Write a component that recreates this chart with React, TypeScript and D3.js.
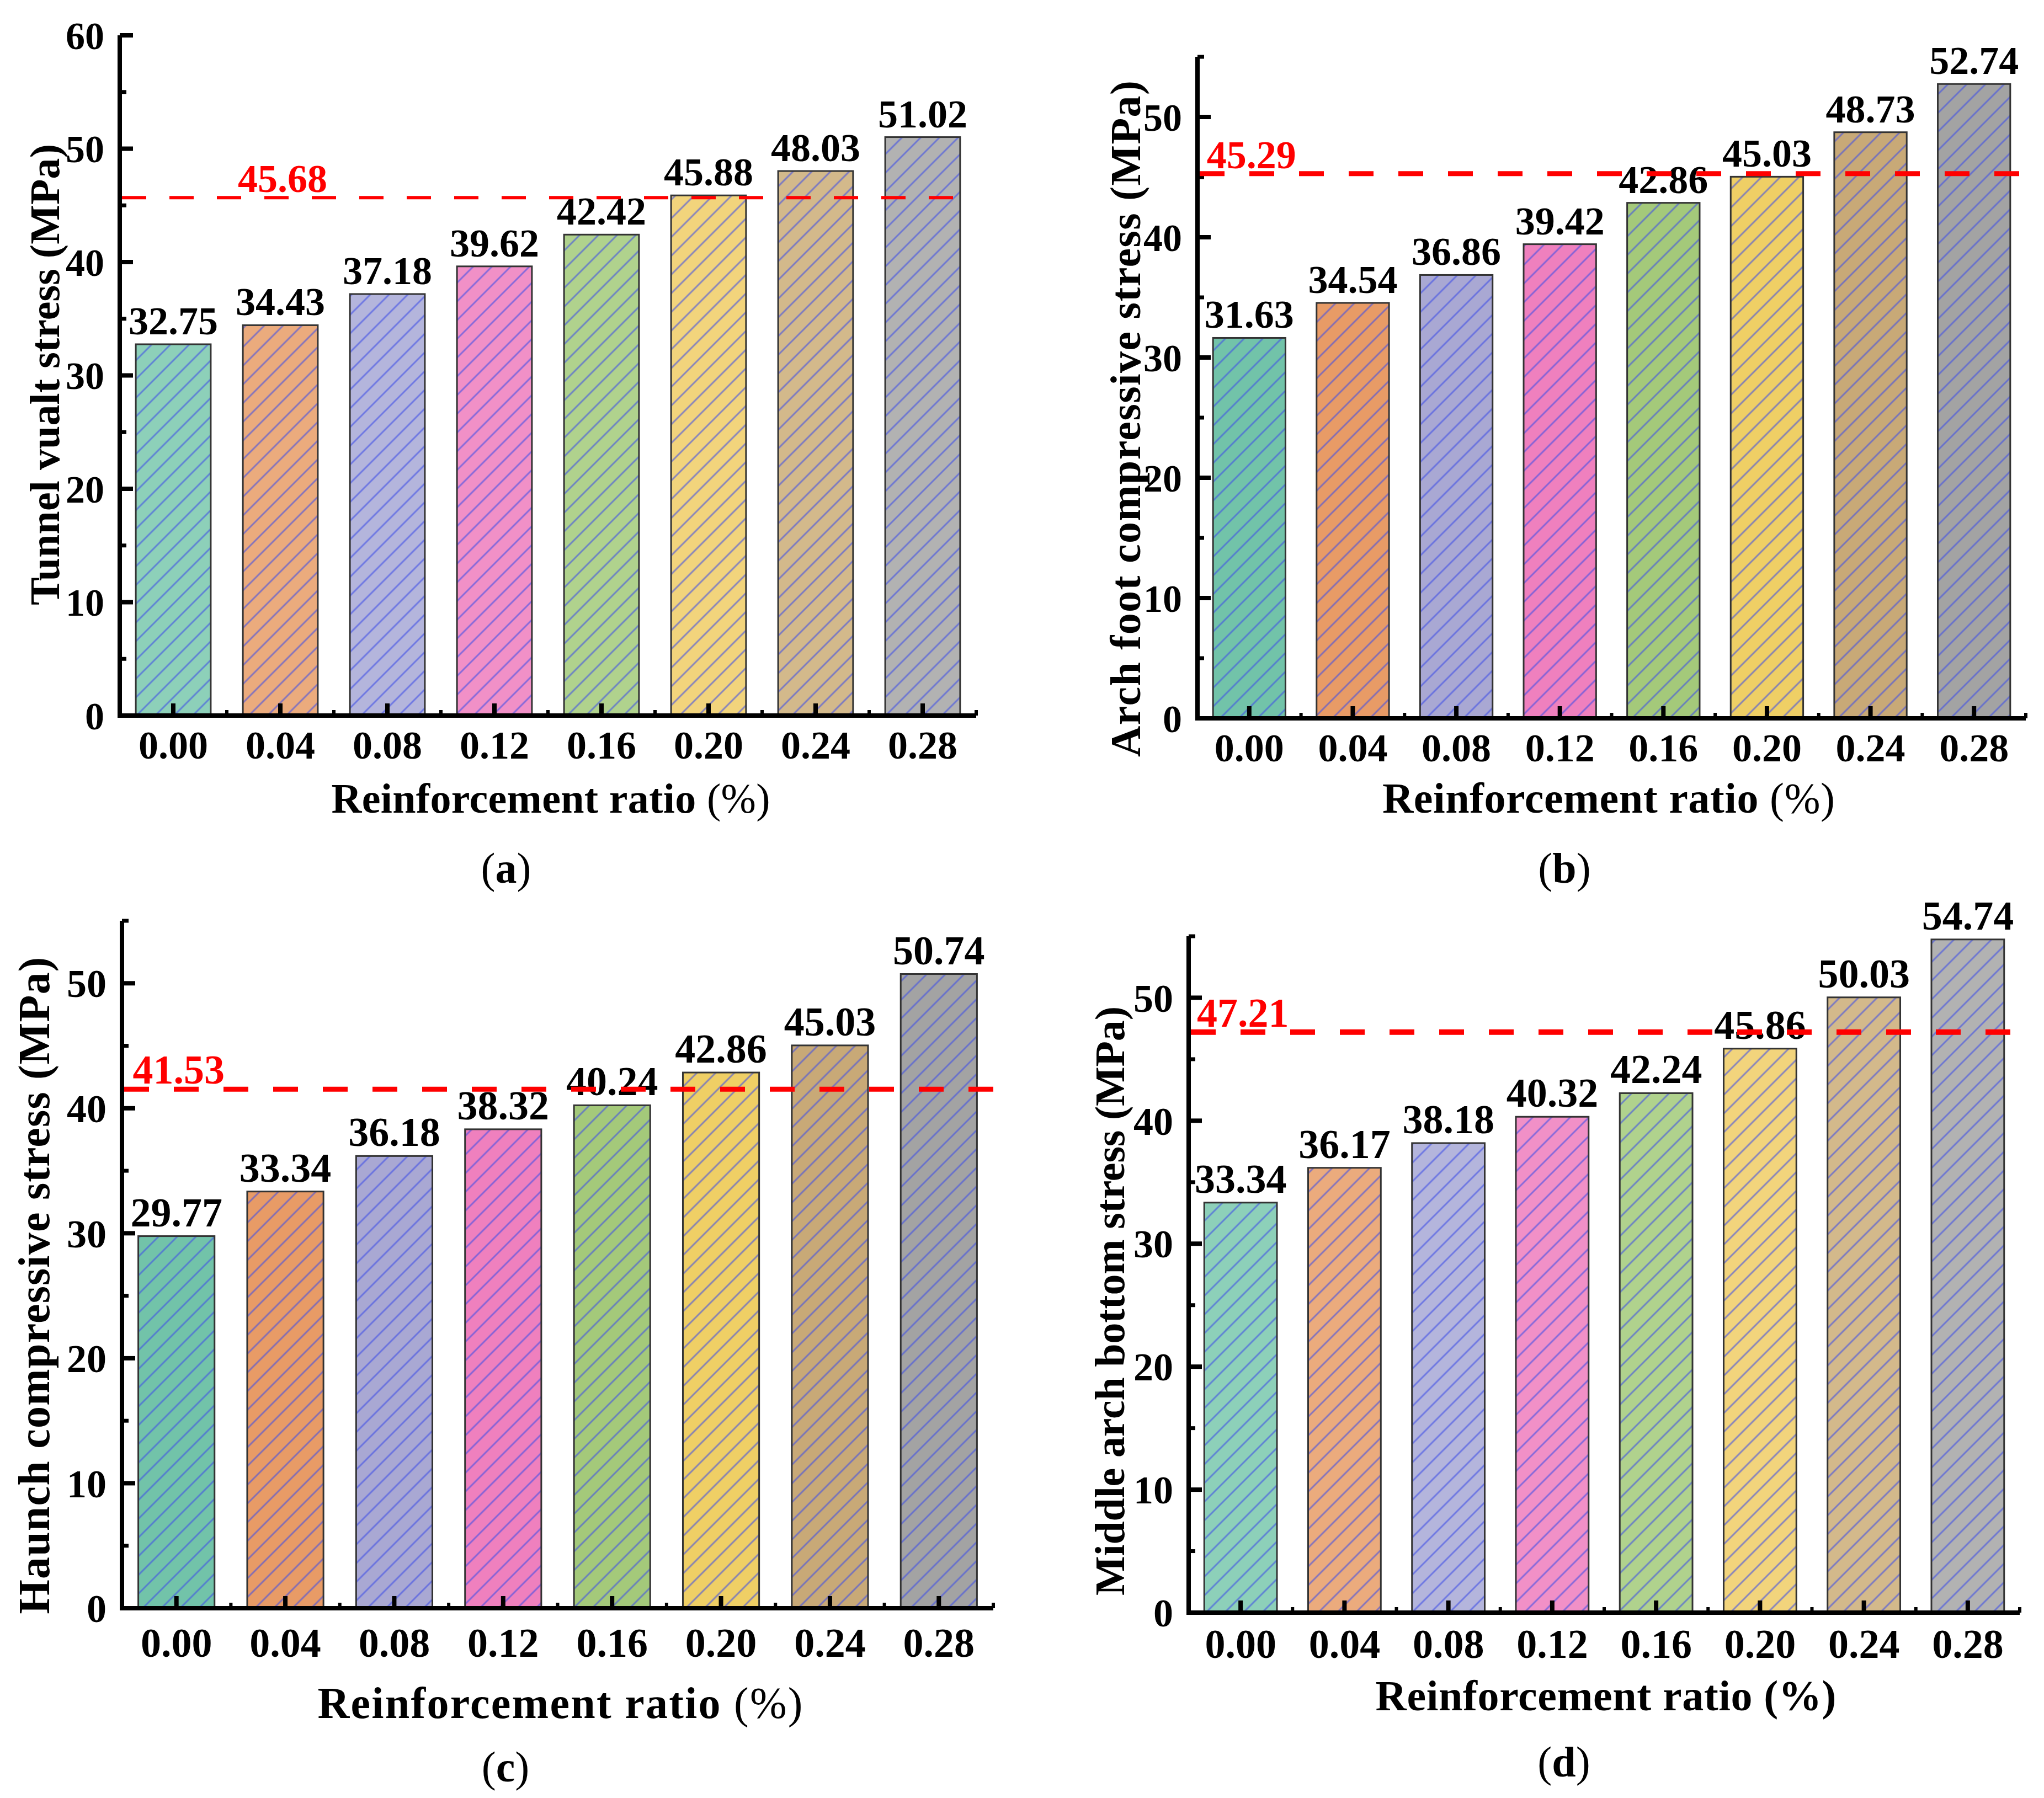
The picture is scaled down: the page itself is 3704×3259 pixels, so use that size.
import React from 'react';
import * as d3 from 'd3';

// reinforcement ratio categories (%)
const ratios = ['0.00', '0.04', '0.08', '0.12', '0.16', '0.20', '0.24', '0.28'];

// stresses in MPa
const vaultStress = [32.75, 34.43, 37.18, 39.62, 42.42, 45.88, 48.03, 51.02];
const archFootStress = [31.63, 34.54, 36.86, 39.42, 42.86, 45.03, 48.73, 52.74];
const haunchStress = [29.77, 33.34, 36.18, 38.32, 40.24, 42.86, 45.03, 50.74];
const middleArchStress = [33.34, 36.17, 38.18, 40.32, 42.24, 45.86, 50.03, 54.74];

// red dashed reference values
const referenceValues = [45.68, 45.29, 41.53, 47.21];

const yTitles = [
  'Tunnel vualt stress (MPa)',
  'Arch foot compressive stress (MPa)',
  'Haunch compressive stress (MPa)',
  'Middle arch bottom stress (MPa)',
];
const captions = ['a', 'b', 'c', 'd'];
const xTitle = 'Reinforcement ratio';

const lightColors = ['#8dd0b9', '#ebab7d', '#b4b5dc', '#f190c7', '#b0d28d', '#f2d47c', '#d3b98b', '#b2b2b2'];
const darkColors = ['#72c3a9', '#e89b66', '#a9a8d3', '#ef80be', '#a4c97a', '#efcf65', '#c8a977', '#a3a3a3'];

const FONT = '"Liberation Serif", "Times New Roman", serif';

type Panel = {
  values: number[];
  ref: number;
  refAt: string;
  yMax: number;
  x0: number;
  x1: number;
  y0: number;
  yTop: number;
  colors: string[];
  fs: number;
  dashW: number;
  dash: string;
  tickGap: number;
  titleX: number;
  titleY: number;
  titleLen: number;
  titleFs: number;
  xTitleX: number;
  xTitleY: number;
  xTitleLen: number;
  xTitleFs: number;
  pctBold: boolean;
  capX: number;
  capY: number;
};

const panels: Panel[] = [
  {
    values: vaultStress, ref: referenceValues[0], refAt: '0.04', yMax: 60,
    x0: 217, x1: 1769, y0: 1297, yTop: 64, colors: lightColors, fs: 70,
    dashW: 6, dash: '44 42', tickGap: 78,
    titleX: 80, titleY: 679, titleLen: 836, titleFs: 76,
    xTitleX: 998, xTitleY: 1473, xTitleLen: 795, xTitleFs: 76, pctBold: false,
    capX: 917, capY: 1600,
  },
  {
    values: archFootStress, ref: referenceValues[1], refAt: '0.00', yMax: 55,
    x0: 2170, x1: 3671, y0: 1302, yTop: 103, colors: darkColors, fs: 70,
    dashW: 9, dash: '45 45', tickGap: 78,
    titleX: 2039, titleY: 759, titleLen: 1226, titleFs: 78,
    xTitleX: 2915, xTitleY: 1473, xTitleLen: 820, xTitleFs: 78, pctBold: false,
    capX: 2835, capY: 1600,
  },
  {
    values: haunchStress, ref: referenceValues[2], refAt: '0.00', yMax: 55,
    x0: 221, x1: 1800, y0: 2915, yTop: 1669, colors: darkColors, fs: 72,
    dashW: 9, dash: '45 45', tickGap: 88,
    titleX: 61, titleY: 2330, titleLen: 1191, titleFs: 80,
    xTitleX: 1015, xTitleY: 3114, xTitleLen: 879, xTitleFs: 80, pctBold: false,
    capX: 916, capY: 3229,
  },
  {
    values: middleArchStress, ref: referenceValues[3], refAt: '0.00', yMax: 55,
    x0: 2154, x1: 3660, y0: 2923, yTop: 1697, colors: lightColors, fs: 72,
    dashW: 10, dash: '45 45', tickGap: 82,
    titleX: 2010, titleY: 2358, titleLen: 1068, titleFs: 76,
    xTitleX: 2910, xTitleY: 3100, xTitleLen: 835, xTitleFs: 78, pctBold: true,
    capX: 2834, capY: 3220,
  },
];

function BarPanel({ p, idx }: { p: Panel; idx: number }) {
  const x = d3.scaleBand<string>().domain(ratios).range([p.x0, p.x1]).paddingInner(0.3).paddingOuter(0.15);
  const y = d3.scaleLinear().domain([0, p.yMax]).range([p.y0, p.yTop]);
  const majors = d3.range(0, p.yMax + 0.01, 10);
  const minors = d3.range(5, p.yMax + 0.01, 10);
  const step = x.step();
  const bw = x.bandwidth();
  const refY = y(p.ref);

  return (
    <g>
      {/* bars */}
      {p.values.map((v, i) => (
        <g key={i}>
          <rect x={x(ratios[i])} y={y(v)} width={bw} height={p.y0 - y(v)} fill={p.colors[i]} />
          <rect
            x={x(ratios[i])}
            y={y(v)}
            width={bw}
            height={p.y0 - y(v)}
            fill={`url(#hatch${idx})`}
            stroke="#333"
            strokeWidth={3}
          />
          <text
            x={x(ratios[i])! + bw / 2}
            y={y(v) - 18}
            textAnchor="middle"
            fontSize={p.fs + 2}
            fontWeight="bold"
            fill="#000"
          >
            {v.toFixed(2)}
          </text>
        </g>
      ))}

      {/* y axis */}
      <line x1={p.x0} x2={p.x0} y1={p.y0 + 4} y2={p.yTop} stroke="#000" strokeWidth={8} />
      {majors.map((t) => (
        <g key={'M' + t}>
          <line x1={p.x0} x2={p.x0 + 24} y1={y(t)} y2={y(t)} stroke="#000" strokeWidth={8} />
          <text x={p.x0 - 28} y={y(t)} dy="0.35em" textAnchor="end" fontSize={p.fs} fontWeight="bold">
            {t}
          </text>
        </g>
      ))}
      {minors.map((t) => (
        <line key={'m' + t} x1={p.x0} x2={p.x0 + 12} y1={y(t)} y2={y(t)} stroke="#000" strokeWidth={7} />
      ))}

      {/* x axis */}
      <line x1={p.x0 - 4} x2={p.x1} y1={p.y0} y2={p.y0} stroke="#000" strokeWidth={8} />
      {ratios.map((r) => (
        <g key={r}>
          <line
            x1={x(r)! + bw / 2}
            x2={x(r)! + bw / 2}
            y1={p.y0}
            y2={p.y0 - 22}
            stroke="#000"
            strokeWidth={8}
          />
          <line
            x1={x(r)! + bw / 2 + step / 2}
            x2={x(r)! + bw / 2 + step / 2}
            y1={p.y0}
            y2={p.y0 - 10}
            stroke="#000"
            strokeWidth={6}
          />
          <text x={x(r)! + bw / 2} y={p.y0 + p.tickGap} textAnchor="middle" fontSize={p.fs + 2} fontWeight="bold">
            {r}
          </text>
        </g>
      ))}

      {/* reference line and label */}
      <text
        x={x(p.refAt)! + bw / 2 + 4}
        y={refY - 10}
        textAnchor="middle"
        fontSize={p.fs + 2}
        fontWeight="bold"
        fill="#ff0000"
      >
        {p.ref.toFixed(2)}
      </text>
      <line
        x1={p.x0 + 4}
        x2={p.x1}
        y1={refY}
        y2={refY}
        stroke="#ff0000"
        strokeWidth={p.dashW}
        strokeDasharray={p.dash}
      />

      {/* titles */}
      <text
        transform={`translate(${p.titleX},${p.titleY}) rotate(-90)`}
        textAnchor="middle"
        dy="0.35em"
        fontSize={p.titleFs}
        fontWeight="bold"
        textLength={p.titleLen}
        lengthAdjust="spacing"
      >
        {yTitles[idx]}
      </text>
      <text
        x={p.xTitleX}
        y={p.xTitleY}
        textAnchor="middle"
        fontSize={p.xTitleFs}
        textLength={p.xTitleLen}
        lengthAdjust="spacing"
      >
        <tspan fontWeight="bold">{xTitle} </tspan>
        <tspan fontWeight={p.pctBold ? 'bold' : 'normal'}>(%)</tspan>
      </text>
      <text x={p.capX} y={p.capY} textAnchor="middle" fontSize={78}>
        (<tspan fontWeight="bold">{captions[idx]}</tspan>)
      </text>
    </g>
  );
}

export default function App() {
  return (
    <svg
      width={3704}
      height={3259}
      viewBox="0 0 3704 3259"
      style={{ position: 'absolute', left: 0, top: 0, background: '#fff' }}
      fontFamily={FONT}
    >
      <defs>
        {panels.map((_, i) => (
          <pattern
            key={i}
            id={`hatch${i}`}
            patternUnits="userSpaceOnUse"
            width={24}
            height={24}
            patternTransform="rotate(45)"
          >
            <line x1={12} x2={12} y1={0} y2={24} stroke="#3f4fe6" strokeOpacity={0.6} strokeWidth={3} />
          </pattern>
        ))}
      </defs>
      <rect width={3704} height={3259} fill="#fff" />
      {panels.map((p, i) => (
        <BarPanel key={i} p={p} idx={i} />
      ))}
    </svg>
  );
}
